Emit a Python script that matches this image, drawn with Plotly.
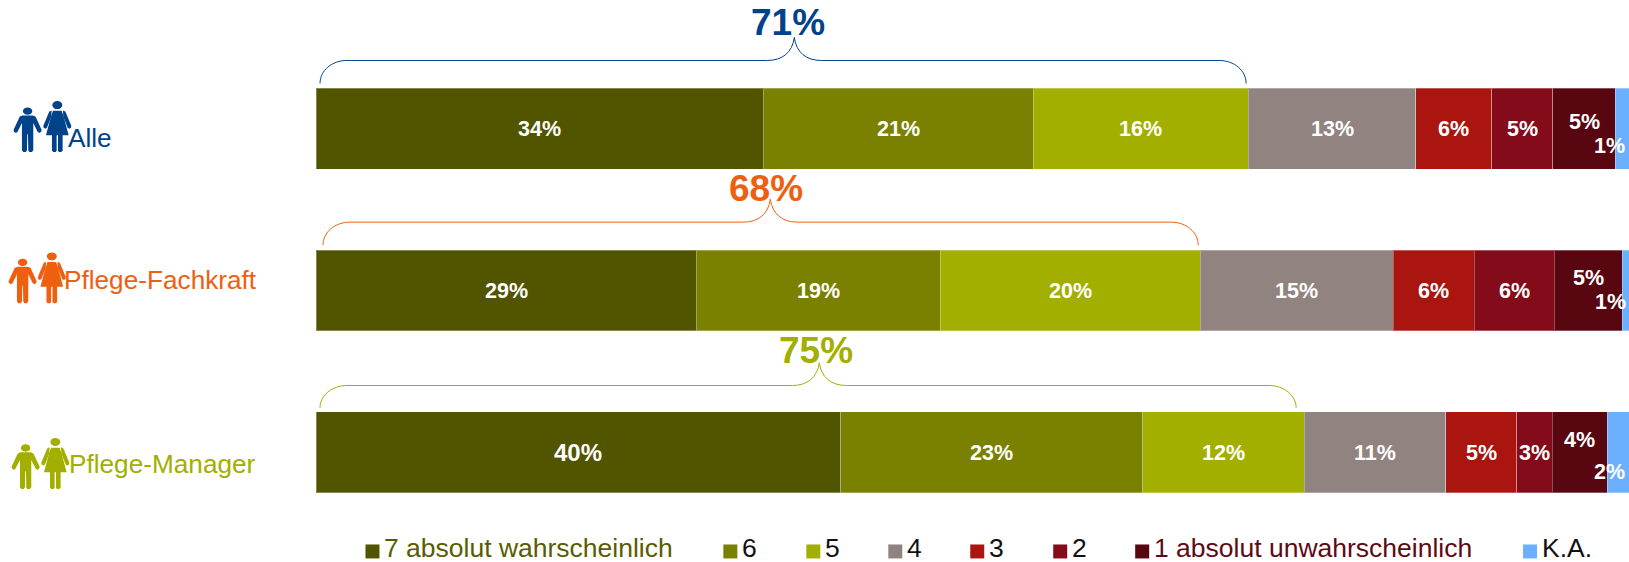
import plotly.graph_objects as go

groups = ["Alle", "Pflege-Fachkraft", "Pflege-Manager"]
series_names = ["7 absolut wahrscheinlich", "6", "5", "4", "3", "2", "1 absolut unwahrscheinlich", "K.A."]
s7 = [34.05, 28.95, 39.95]
s6 = [20.56, 18.6, 23.0]
s5 = [16.4, 19.8, 12.3]
s4 = [12.75, 14.7, 10.8]
s3 = [5.8, 6.15, 5.4]
s2 = [4.65, 6.1, 2.7]
s1 = [4.75, 5.2, 4.2]
ka = [1.04, 0.5, 1.65]
series = [s7, s6, s5, s4, s3, s2, s1, ka]
labels = [
    ["34%", "29%", "40%"], ["21%", "19%", "23%"], ["16%", "20%", "12%"], ["13%", "15%", "11%"],
    ["6%", "6%", "5%"], ["5%", "6%", "3%"], ["5%", "5%", "4%"], ["1%", "1%", "2%"],
]
colors = ["#525500", "#7a8000", "#a2af00", "#918480", "#aa1510", "#840b1a", "#58060f", "#6ab0ff"]
legend_text_colors = ["#5a5c00", "#111111", "#111111", "#111111", "#111111", "#111111", "#5e0a14", "#111111"]
group_colors = ["#00438a", "#ee6010", "#a2af00"]
top2box = ["71%", "68%", "75%"]

W, H = 1629, 562
L, T, B = 315.5, 47.5, 28.5
FONT = "Liberation Sans, Arial, sans-serif"

def px(x): return (x - L) / (W - L)
def py(y): return (H - B - y) / (H - T - B)
def P(x, y): return f"{px(x):.5f},{py(y):.5f}"

fig = go.Figure()
for i, name in enumerate(series_names):
    fig.add_trace(go.Bar(
        y=groups, x=series[i], name=name, orientation="h",
        marker=dict(color=colors[i], line=dict(color="rgba(255,255,255,0.3)", width=1)),
        showlegend=False, hoverinfo="x+y",
    ))

ann, shapes = [], []

def note(text, xp, yp, size, color, bold=False, anchor="center"):
    ann.append(dict(text=f"<b>{text}</b>" if bold else text, xref="paper", yref="paper",
                    x=px(xp), y=py(yp), xanchor=anchor, yanchor="middle", showarrow=False,
                    font=dict(family=FONT, size=size, color=color)))

# value labels placed through the data scale
shift = {(6, 0): (0, -7), (7, 0): (-13, 17), (6, 1): (0, -13), (7, 1): (-15, 11),
         (6, 2): (0, -12.5), (7, 2): (-9, 19)}
for r, g in enumerate(groups):
    cum = 0
    for i in range(len(series)):
        v = series[i][r]
        dx, dy = shift.get((i, r), (0, 0))
        ann.append(dict(text=f"<b>{labels[i][r]}</b>", x=cum + v / 2, y=g, xref="x", yref="y",
                        xshift=dx, yshift=-dy + (-0.5), showarrow=False,
                        font=dict(family=FONT, size=24 if labels[i][r] == "40%" else 21.5, color="white")))
        cum += v

# group labels
group_label_pos = [(65, 137.5), (61, 279.5), (66, 464)]
for g, c, (x, y) in zip(groups, group_colors, group_label_pos):
    note(g, x, y, 26.2, c, anchor="left")

# brackets and their totals
brackets = [(319.5, 1246, 794, 37, 60, 83), (322.5, 1198, 770, 199, 222, 245), (319.5, 1296, 819, 363, 385.7, 408)]
total_pos = [(787.5, 22), (766, 188), (815.6, 351)]
for (l, r, t, ty, h, b), c, txt, (tx, tyy) in zip(brackets, group_colors, top2box, total_pos):
    d = (f"M{P(l,b)} C{P(l,h+10)} {P(l+12,h)} {P(l+27,h)} L{P(t-27,h)} "
         f"C{P(t-12,h)} {P(t-2,h-8)} {P(t,ty)} C{P(t+2,h-8)} {P(t+12,h)} {P(t+27,h)} "
         f"L{P(r-27,h)} C{P(r-12,h)} {P(r,h+10)} {P(r,b)}")
    shapes.append(dict(type="path", xref="paper", yref="paper", path=d, line=dict(color=c, width=1)))
    note(txt, tx, tyy, 37, c, bold=True)

# pictograms
def poly(points, hx, hy):
    return "M" + " L".join(P(hx + a / 3, hy + b / 3) for a, b in points) + " Z"

def ell(hx, hy, rx, ry, c):
    shapes.append(dict(type="circle", xref="paper", yref="paper", x0=px(hx - rx), x1=px(hx + rx),
                       y0=py(hy + ry), y1=py(hy - ry), fillcolor=c, line=dict(width=0)))

man = [(-16,13),(16,13),(24,17),(42,56),(41,62),(35,66),(30,62),(17,36),(17,118),(13,123),(5,123),(2,118),(1,70),
       (-1,70),(-2,118),(-5,123),(-13,123),(-17,118),(-17,36),(-30,62),(-35,66),(-41,62),(-42,56),(-24,17)]
dress = [(-13,17),(13,17),(20,38),(34,91),(16,91),(16,137),(12,141),(5,141),(2,137),(2,91),(-2,91),(-2,137),(-5,141),
         (-12,141),(-16,137),(-16,91),(-34,91),(-20,38)]
arm_r = [(17,16),(24,19),(42,62),(41,68),(36,71),(31,68),(18,34)]
arm_l = [(-a, b) for a, b in arm_r]
icon_heads = [((27,110.7),(56.7,104.7)), ((22,262.3),(51.2,256.3)), ((25,448.3),(54.7,442.3))]
for ((mx, my), (wx, wy)), c in zip(icon_heads, group_colors):
    ell(mx, my, 4.7, 3.7, c)
    ell(wx, wy, 5, 4, c)
    for pts, hx, hy in [(man, mx, my), (dress, wx, wy), (arm_r, wx, wy), (arm_l, wx, wy)]:
        shapes.append(dict(type="path", xref="paper", yref="paper", path=poly(pts, hx, hy),
                           fillcolor=c, line=dict(width=0)))

# legend
swatch_x = [365, 723, 806, 888, 970, 1053, 1135, 1523]
for name, c, tc, x in zip(series_names, colors, legend_text_colors, swatch_x):
    shapes.append(dict(type="rect", xref="paper", yref="paper", x0=px(x), x1=px(x + 14),
                       y0=py(559), y1=py(545), fillcolor=c, line=dict(width=0)))
    note(name, x + 16.5, 549, 26.5, tc, anchor="left")

fig.update_layout(
    width=W, height=H, barmode="stack", bargap=0.5,
    margin=dict(l=L, r=0, t=T, b=B, pad=0), paper_bgcolor="white", plot_bgcolor="white",
    xaxis=dict(range=[0, 100], visible=False, fixedrange=True),
    yaxis=dict(autorange="reversed", visible=False, fixedrange=True, categoryorder="array", categoryarray=groups),
    annotations=ann, shapes=shapes, font=dict(family=FONT),
)
fig.write_html("out.html", config={"displayModeBar": False},
               post_script="document.body.style.margin='0';document.body.style.overflow='hidden';")
